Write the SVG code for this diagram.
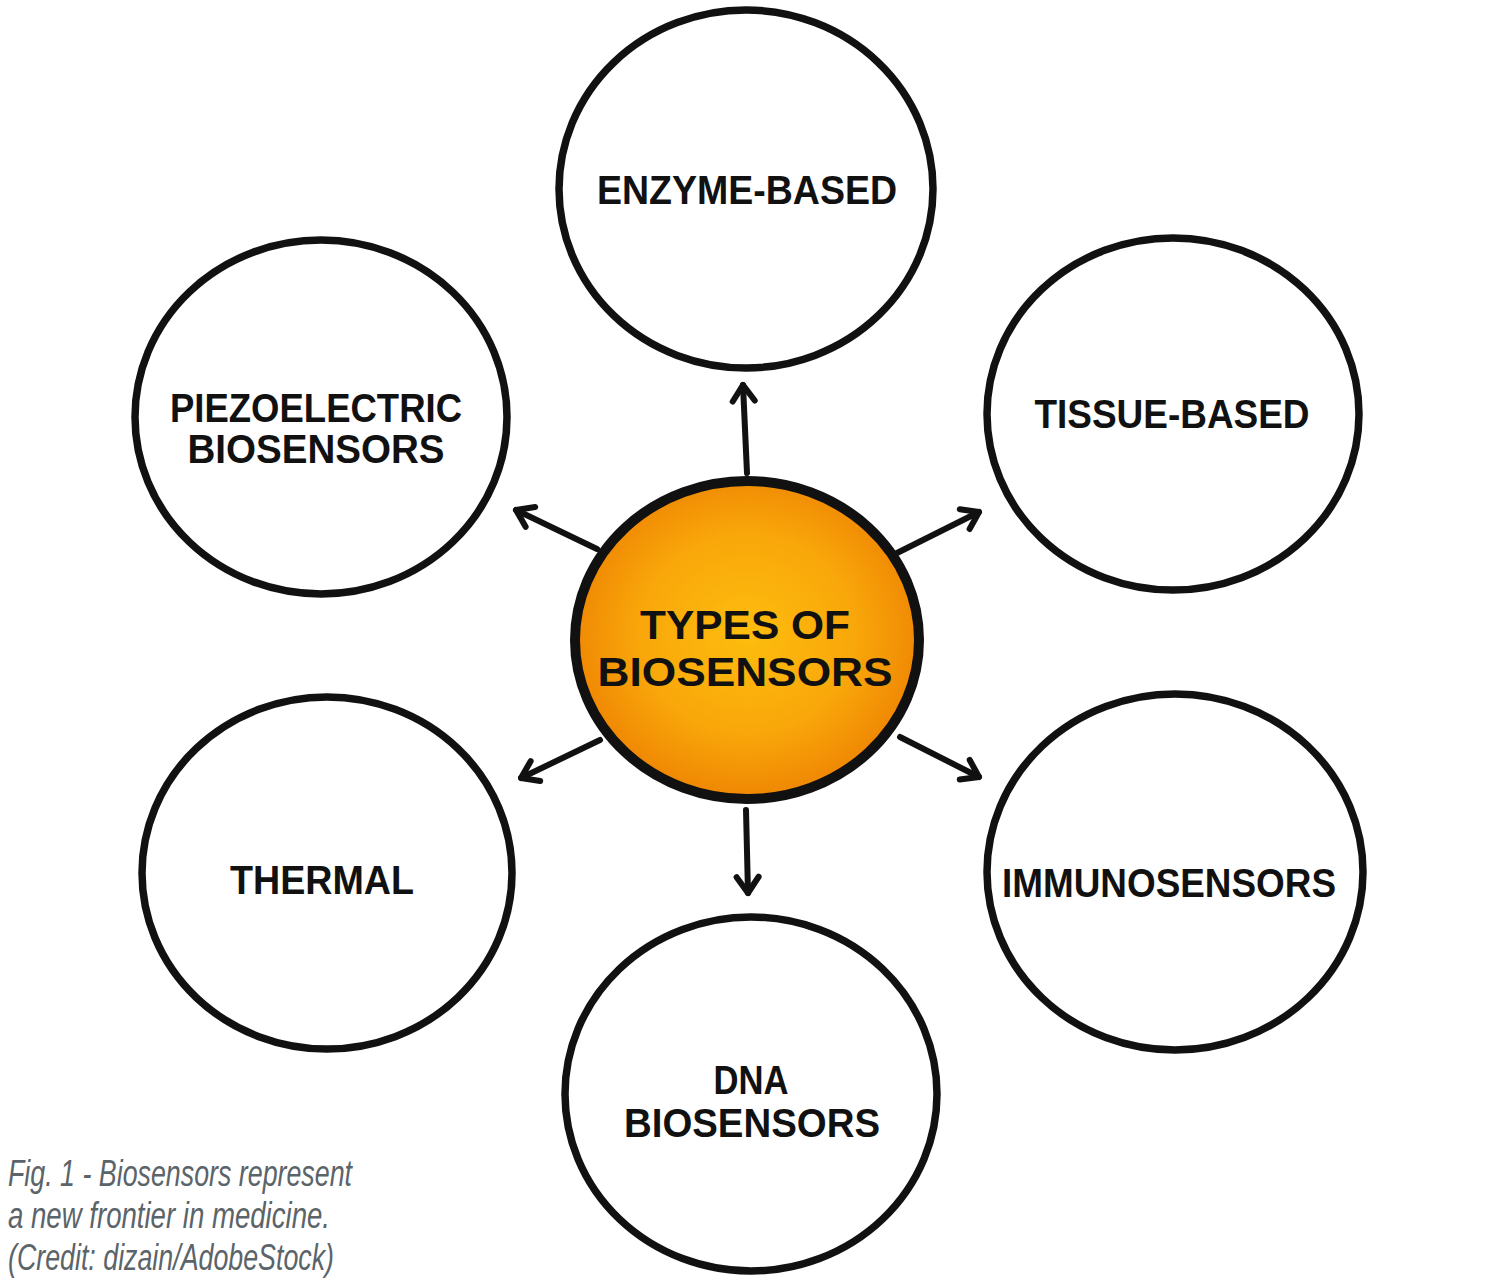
<svg xmlns="http://www.w3.org/2000/svg" width="1500" height="1286" viewBox="0 0 1500 1286">
<defs>
<radialGradient id="og" cx="50%" cy="48%" r="52%">
<stop offset="0" stop-color="#fdbd0e"/>
<stop offset="0.6" stop-color="#f9a70a"/>
<stop offset="1" stop-color="#ef8603"/>
</radialGradient>
<marker id="ah" viewBox="0 0 30 30" refX="22" refY="15" markerWidth="30" markerHeight="30" markerUnits="userSpaceOnUse" orient="auto">
<path d="M6 4 L22 15 L6 26" fill="none" stroke="#111" stroke-width="6" stroke-linecap="round" stroke-linejoin="round"/>
</marker>
</defs>
<style>
.n{fill:#fff;stroke:#111;stroke-width:7.5}
.c{fill:url(#og);stroke:#111;stroke-width:10}
.t{font-family:"Liberation Sans",Arial,sans-serif;font-weight:bold;font-size:40px;fill:#111;text-anchor:middle}
.k{stroke:#111;stroke-width:6;stroke-linecap:round;fill:none;marker-end:url(#ah)}
.cap{font-family:"Liberation Sans",Arial,sans-serif;font-style:italic;font-size:36px;fill:#5b6469}
</style>
<rect width="1500" height="1286" fill="#fff"/>
<g id="connectors">
<line class="k" x1="747" y1="473" x2="743" y2="385"/>
<line class="k" x1="597" y1="549" x2="516" y2="510"/>
<line class="k" x1="897" y1="553" x2="979" y2="512"/>
<line class="k" x1="600" y1="740" x2="521" y2="778"/>
<line class="k" x1="900" y1="737" x2="979" y2="777"/>
<line class="k" x1="746" y1="810" x2="748" y2="893"/>
</g>
<g id="enzyme"><ellipse class="n" cx="746" cy="189" rx="187" ry="179"/><text class="t" x="747" y="204" textLength="300" lengthAdjust="spacingAndGlyphs">ENZYME-BASED</text></g>
<g id="tissue"><ellipse class="n" cx="1173" cy="414" rx="186" ry="176"/><text class="t" x="1172" y="428" textLength="275" lengthAdjust="spacingAndGlyphs">TISSUE-BASED</text></g>
<g id="piezo"><ellipse class="n" cx="321" cy="417" rx="186" ry="177"/><text class="t" x="316" y="422" textLength="292" lengthAdjust="spacingAndGlyphs">PIEZOELECTRIC</text><text class="t" x="316" y="463" textLength="257" lengthAdjust="spacingAndGlyphs">BIOSENSORS</text></g>
<g id="thermal"><ellipse class="n" cx="327" cy="873" rx="185" ry="176"/><text class="t" x="322" y="894" textLength="184" lengthAdjust="spacingAndGlyphs">THERMAL</text></g>
<g id="immuno"><ellipse class="n" cx="1175" cy="872" rx="188" ry="178"/><text class="t" x="1169" y="897" textLength="334" lengthAdjust="spacingAndGlyphs">IMMUNOSENSORS</text></g>
<g id="dna"><ellipse class="n" cx="751" cy="1094" rx="186" ry="177"/><text class="t" x="751" y="1094" textLength="75" lengthAdjust="spacingAndGlyphs">DNA</text><text class="t" x="752" y="1137" textLength="256" lengthAdjust="spacingAndGlyphs">BIOSENSORS</text></g>
<g id="center"><ellipse class="c" cx="747" cy="640" rx="172" ry="159"/><text class="t" x="745" y="639" font-size="44" textLength="210" lengthAdjust="spacingAndGlyphs">TYPES OF</text><text class="t" x="745" y="686" font-size="44" textLength="295" lengthAdjust="spacingAndGlyphs">BIOSENSORS</text></g>
<g id="caption">
<text class="cap" x="8" y="1186" textLength="344" lengthAdjust="spacingAndGlyphs">Fig. 1 - Biosensors represent</text>
<text class="cap" x="8" y="1228" textLength="322" lengthAdjust="spacingAndGlyphs">a new frontier in medicine.</text>
<text class="cap" x="8" y="1270" textLength="326" lengthAdjust="spacingAndGlyphs">(Credit: dizain/AdobeStock)</text>
</g>
</svg>
